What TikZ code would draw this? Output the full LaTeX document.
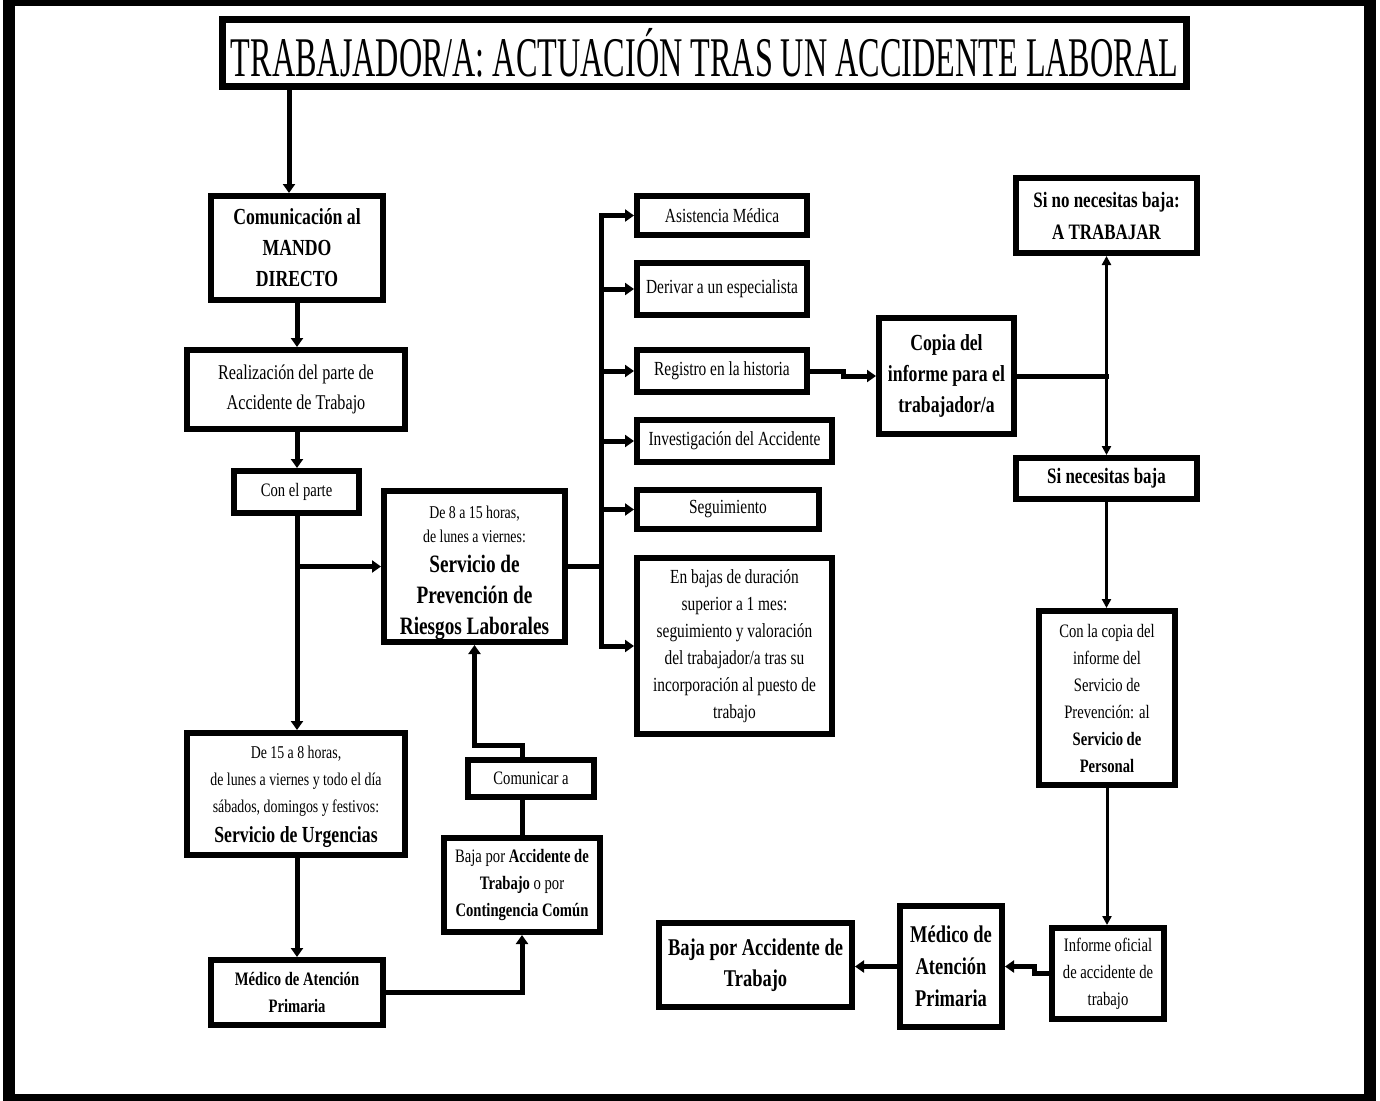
\documentclass[tikz,border=0pt]{standalone}
\usepackage{fontspec}
\setmainfont{Liberation Serif}[FakeStretch=0.77]
\newfontfamily\titlefamily{Liberation Serif}[FakeStretch=0.575]
\usetikzlibrary{arrows.meta}
\newcommand\txtsm{\fontsize{18}{24}\selectfont}
\newcommand\txtnorm{\fontsize{20}{27}\selectfont}
\newcommand\txtbold{\fontsize{23}{31}\selectfont\bfseries}
\newcommand\txtbig{\fontsize{25}{32}\selectfont\bfseries}
\tikzset{
  flowbox/.style={draw=black,line width=6pt,align=center,inner sep=0pt,font=\txtnorm},
  boldbox/.style={flowbox,font=\txtbold},
  flowline/.style={line width=5pt,line cap=rect},
  flowarrow/.style={line width=5pt,-{Triangle[length=9pt,width=12pt]}},
  thinarrow/.style={line width=3pt,-{Triangle[length=9pt,width=9pt]}}
}
\begin{document}
\begin{tikzpicture}[x=1pt,y=-1pt]
  \useasboundingbox (0,0) rectangle (1380,1100);
  \draw[line width=12pt] (9,0) rectangle (1370,1100);
  % title
  \node[flowbox,line width=7pt,minimum width=964pt,minimum height=67pt,
    font=\titlefamily\fontsize{56}{60}\selectfont] (title) at (704.5,53)
    {TRABAJADOR/A: ACTUACIÓN TRAS UN ACCIDENTE LABORAL};
  % left column
  \node[boldbox,minimum width=172pt,minimum height=104pt] (comm) at (297,248)
    {Comunicación al\\ MANDO\\ DIRECTO};
  \node[flowbox,minimum width=218pt,minimum height=79pt,
    font=\fontsize{21}{30}\selectfont] (parte) at (296,389.5)
    {Realización del parte de\\ Accidente de Trabajo};
  \node[flowbox,minimum width=125pt,minimum height=42pt,font=\fontsize{19}{24}\selectfont]
    (conparte) at (296.5,492) {Con el parte};
  \node[flowbox,minimum width=218pt,minimum height=122pt] (urg) at (296,794)
    {\txtsm\rule{0pt}{19pt}De 15 a 8 horas,\\ \txtsm de lunes a viernes y todo el día\\
     \txtsm sábados, domingos y festivos:\\[3pt] \txtbold Servicio de Urgencias};
  \node[boldbox,minimum width=172pt,minimum height=65pt,
    font=\fontsize{19}{27}\selectfont\bfseries] (medA) at (297,992.5)
    {Médico de Atención\\ Primaria};
  % middle
  \node[flowbox,minimum width=181pt,minimum height=151pt,font=\txtsm]
    (prev) at (474.5,566.5)
    {\rule{0pt}{26pt}De 8 a 15 horas,\\ de lunes a viernes:\\[6pt] \txtbig Servicio de\\[7pt]
     \txtbig Prevención de\\[7pt] \txtbig Riesgos Laborales};
  \node[flowbox,minimum width=126pt,minimum height=37pt,font=\fontsize{19}{24}\selectfont]
    (comun) at (531,778.5) {Comunicar a};
  \node[flowbox,minimum width=156pt,minimum height=94pt,font=\fontsize{19}{27}\selectfont]
    (bajaA) at (522,885)
    {Baja por \textbf{Accidente de}\\ \textbf{Trabajo} o por\\ \textbf{Contingencia Común}};
  % actions of the prevention service
  \node[flowbox,minimum width=170pt,minimum height=39pt] (asist) at (722,215.5)
    {Asistencia Médica};
  \node[flowbox,minimum width=170pt,minimum height=52pt] (deriv) at (722,289)
    {Derivar a un especialista};
  \node[flowbox,minimum width=170pt,minimum height=42pt] (regis) at (722,371)
    {Registro en la historia};
  \node[flowbox,minimum width=195pt,minimum height=42pt] (invest) at (734.5,441)
    {Investigación del Accidente};
  \node[flowbox,minimum width=182pt,minimum height=39pt] (segui) at (728,509.5)
    {Seguimiento};
  \node[flowbox,minimum width=195pt,minimum height=176pt] (enbajas) at (734.5,646)
    {En bajas de duración\\ superior a 1 mes:\\ seguimiento y valoración\\
     del trabajador/a tras su\\ incorporación al puesto de\\ trabajo};
  % right part
  \node[boldbox,minimum width=135pt,minimum height=116pt] (copia) at (946.5,376)
    {Copia del\\ informe para el\\ trabajador/a};
  \node[boldbox,minimum width=181pt,minimum height=75pt,
    font=\fontsize{22}{32}\selectfont\bfseries] (sinobaja) at (1106.5,215.5)
    {Si no necesitas baja:\\ A TRABAJAR};
  \node[boldbox,minimum width=181pt,minimum height=41pt,
    font=\fontsize{22}{32}\selectfont\bfseries] (sibaja) at (1106.5,478.5)
    {Si necesitas baja};
  \node[flowbox,minimum width=136pt,minimum height=174pt,font=\fontsize{19}{27}\selectfont]
    (concopia) at (1107,698)
    {Con la copia del\\ informe del\\ Servicio de\\ Prevención: al\\
     \textbf{Servicio de}\\ \textbf{Personal}};
  \node[flowbox,minimum width=112pt,minimum height=91pt,font=\fontsize{19}{27}\selectfont]
    (informe) at (1108,973.5) {Informe oficial\\ de accidente de\\ trabajo};
  \node[boldbox,minimum width=102pt,minimum height=121pt,
    font=\fontsize{24}{32}\selectfont\bfseries] (medB) at (951,966.5)
    {Médico de\\ Atención\\ Primaria};
  \node[boldbox,minimum width=193pt,minimum height=84pt,
    font=\fontsize{24}{31}\selectfont\bfseries] (bajaB) at (755.5,965)
    {Baja por Accidente de\\ Trabajo};
  % connectors
  \coordinate (tx) at (289,0);
  \coordinate (spine) at (601,0);
  \draw[flowarrow] (title.south -| tx) -- (comm.north -| tx);
  \draw[flowarrow] (comm.south) -- (comm.south |- parte.north);
  \draw[flowarrow] (comm.south |- parte.south) -- (comm.south |- conparte.north);
  \draw[flowarrow] (comm.south |- conparte.south) -- (comm.south |- urg.north);
  \draw[flowarrow] (comm.south |- prev.west) -- (prev.west);
  \draw[flowarrow] (comm.south |- urg.south) -- (comm.south |- medA.north);
  \draw[flowarrow] (medA.east) -| (bajaA.south);
  \draw[flowline] (bajaA.north) -- (bajaA.north |- comun.south);
  \draw[flowarrow] (bajaA.north |- comun.north) -- ++(0,-12) -| (prev.south);
  \draw[flowline] (prev.east) -- (prev.east -| spine);
  \draw[flowline] (spine |- asist.west) -- (spine |- enbajas.west);
  \foreach \n in {asist,deriv,regis,invest,segui,enbajas}
    \draw[flowarrow] (spine |- \n.west) -- (\n.west);
  \draw[flowarrow] (regis.east) -- ++(33,0) |- (copia.west);
  \draw[flowline] (copia.east) -- (copia.east -| sinobaja.south);
  \draw[thinarrow] (copia.east -| sinobaja.south) -- (sinobaja.south);
  \draw[thinarrow] (copia.east -| sibaja.north) -- (sibaja.north);
  \draw[thinarrow] (sibaja.south) -- (sibaja.south |- concopia.north);
  \draw[thinarrow] (concopia.south) -- (concopia.south |- informe.north);
  \draw[flowarrow] (informe.west) -- ++(-15,0) |- (medB.east);
  \draw[flowarrow] (medB.west) -- (medB.west -| bajaB.east);
\end{tikzpicture}
\end{document}
